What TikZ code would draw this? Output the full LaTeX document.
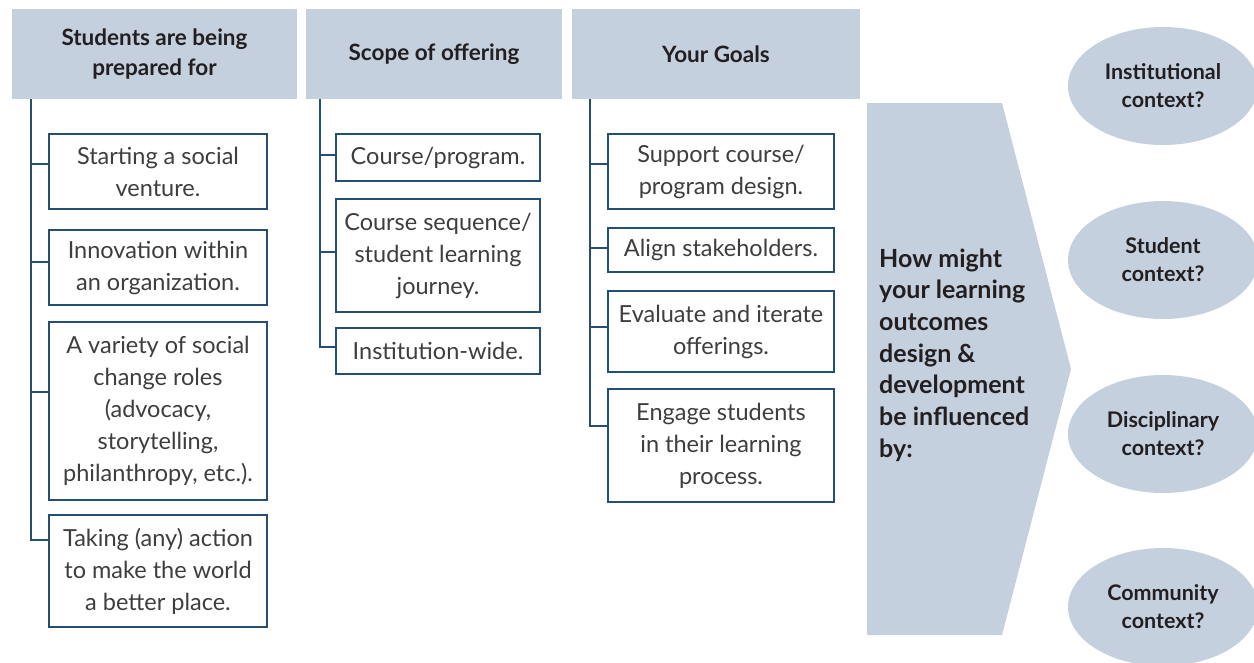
\documentclass[tikz,border=0pt]{standalone}
\usepackage{fontspec}
\setmainfont{Lato}
\usetikzlibrary{shapes.geometric,calc}
\definecolor{hdr}{RGB}{197,208,222}
\definecolor{navy}{RGB}{38,78,115}
\definecolor{txt}{RGB}{62,62,62}
\definecolor{dark}{RGB}{35,31,32}
\begin{document}
\begin{tikzpicture}[x=1pt,y=-1pt,
  hdrbox/.style={fill=hdr,draw=none,inner sep=0pt,minimum height=90pt,align=center,text=dark,
     font=\bfseries\fontsize{22.5}{30}\selectfont},
  itembox/.style={draw=navy,line width=1.3pt,fill=white,inner sep=0pt,align=center,text=txt,
     font=\fontsize{23.5}{32}\selectfont},
  conn/.style={draw=navy,line width=1.3pt},
  ctx/.style={ellipse,fill=hdr,draw=none,minimum width=190pt,minimum height=118pt,inner sep=0pt,
     align=center,text=dark,font=\bfseries\fontsize{21.5}{28}\selectfont}]
\useasboundingbox (0,0) rectangle (1254,662);
\fill[white] (0,0) rectangle (1254,662);

% headers
\node[hdrbox,minimum width=285pt] (h1) at (154.5,54) {Students are being\\prepared for};
\node[hdrbox,minimum width=256pt] (h2) at (434,54) {Scope of offering};
\node[hdrbox,minimum width=288pt] (h3) at (716,54) {Your Goals};

% column 1
\node[itembox,minimum width=218pt,minimum height=75pt] (b11) at (158,171.5) {Starting a social\\venture.};
\node[itembox,minimum width=218pt,minimum height=75pt] (b12) at (158,267.5) {Innovation within\\an organization.};
\node[itembox,minimum width=218pt,minimum height=178pt] (b13) at (158,411) {A variety of social\\change roles\\(advocacy,\\storytelling,\\philanthropy, etc.).};
\node[itembox,minimum width=218pt,minimum height=112pt] (b14) at (158,571) {Taking (any) action\\to make the world\\a better place.};

% column 2
\node[itembox,minimum width=204pt,minimum height=47pt] (b21) at (438,157.5) {Course/program.};
\node[itembox,minimum width=204pt,minimum height=113pt] (b22) at (438,255.5) {Course sequence/\\student learning\\journey.};
\node[itembox,minimum width=204pt,minimum height=46pt] (b23) at (438,351) {Institution-wide.};

% column 3
\node[itembox,minimum width=226pt,minimum height=75pt] (b31) at (721,171.5) {Support course/\\program design.};
\node[itembox,minimum width=226pt,minimum height=44pt] (b32) at (721,250) {Align stakeholders.};
\node[itembox,minimum width=226pt,minimum height=81pt] (b33) at (721,331.5) {Evaluate and iterate\\offerings.};
\node[itembox,minimum width=226pt,minimum height=113pt] (b34) at (721,445.5) {Engage students\\in their learning\\process.};

% junctions
\coordinate (j11) at (31,164);
\coordinate (j12) at (31,262);
\coordinate (j13) at (31,392);
\coordinate (j14) at (31,540);
\coordinate (j21) at (320,155);
\coordinate (j22) at (320,252);
\coordinate (j23) at (320,347);
\coordinate (j31) at (590,164);
\coordinate (j32) at (590,248);
\coordinate (j33) at (590,327);
\coordinate (j34) at (590,426);

% connectors
\draw[conn] (h1.south -| j14) -- (j14) -- (j14 -| b14.west);
\draw[conn] (j11) -- (j11 -| b11.west);
\draw[conn] (j12) -- (j12 -| b12.west);
\draw[conn] (j13) -- (j13 -| b13.west);
\draw[conn] (h2.south -| j23) -- (j23) -- (j23 -| b23.west);
\draw[conn] (j21) -- (j21 -| b21.west);
\draw[conn] (j22) -- (j22 -| b22.west);
\draw[conn] (h3.south -| j34) -- (j34) -- (j34 -| b34.west);
\draw[conn] (j31) -- (j31 -| b31.west);
\draw[conn] (j32) -- (j32 -| b32.west);
\draw[conn] (j33) -- (j33 -| b33.west);

% big arrow
\fill[hdr] (867,103) -- (1002,103) -- (1071,369) -- (1002,635) -- (867,635) -- cycle;
\node[anchor=west,align=left,inner sep=0pt,text=dark,font=\bfseries\fontsize{25}{31.7}\selectfont] (q) at (879,355)
  {How might\\your learning\\outcomes\\design \&\\development\\be influenced\\by:};

% contexts
\node[ctx] (c1) at (1163,86) {Institutional\\context?};
\node[ctx] (c2) at (1163,260) {Student\\context?};
\node[ctx] (c3) at (1163,434) {Disciplinary\\context?};
\node[ctx] (c4) at (1163,607) {Community\\context?};
\end{tikzpicture}
\end{document}
